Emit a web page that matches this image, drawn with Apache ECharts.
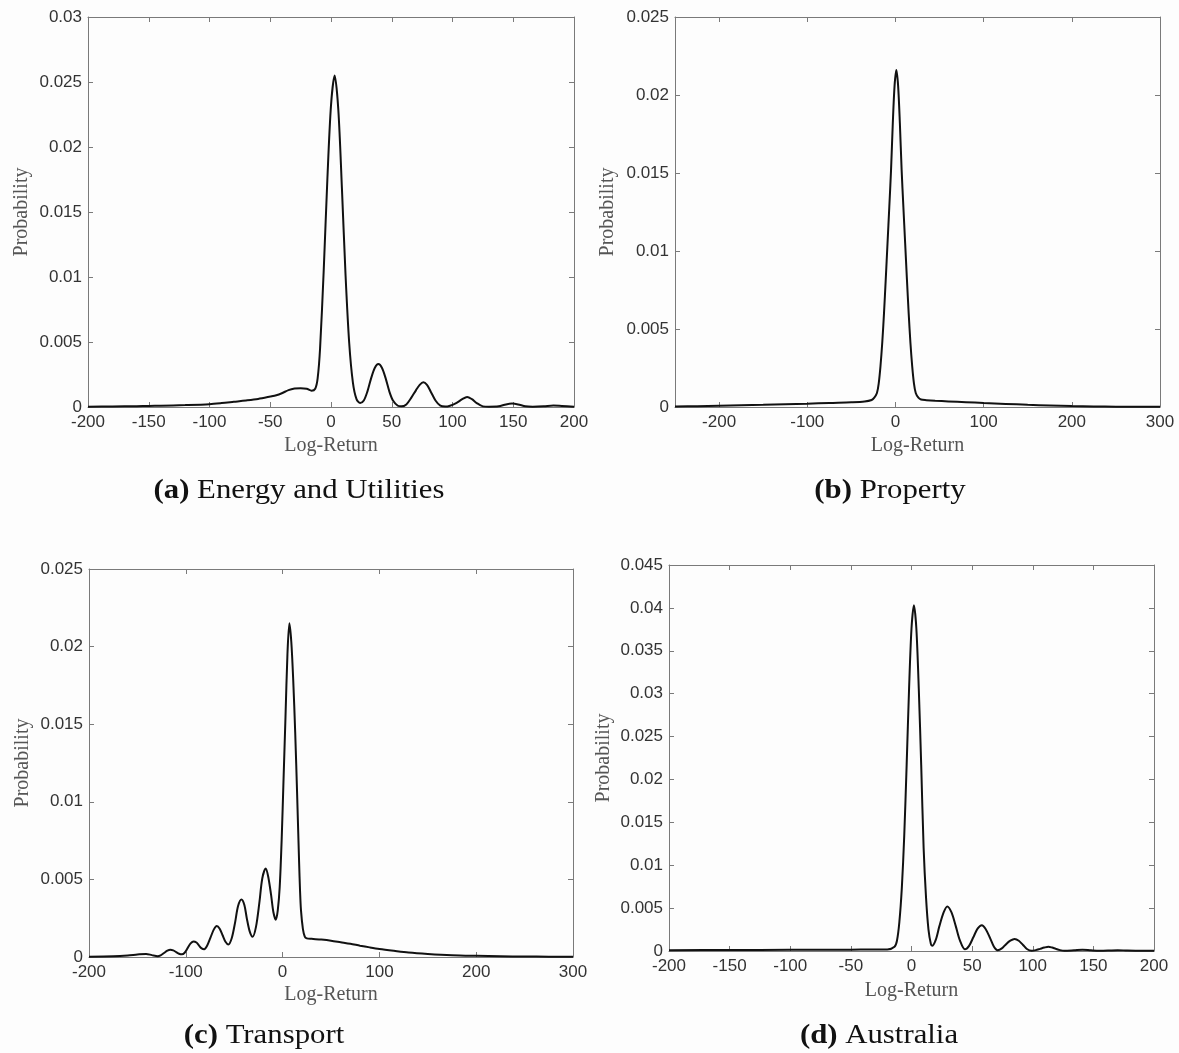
<!DOCTYPE html>
<html>
<head>
<meta charset="utf-8">
<title>Log-Return densities</title>
<script src="https://cdn.jsdelivr.net/npm/echarts@6/dist/echarts.min.js"></script>
<style>
  html, body { margin: 0; padding: 0; background: #fdfdfd; }
  #main { width: 1179px; height: 1053px; }
</style>
</head>
<body>
<div id="main"></div>
<script>
// (a) Energy and Utilities
const energyX = [-200, -180, -160, -150, -140, -120, -100, -90, -80, -70, -60, -50, -45, -40, -35, -30, -25, -20, -16, -13, -11, -9, -6, -3, 0, 3, 6, 9, 12, 15, 18, 21, 24, 27, 30, 33, 36, 39, 42, 45, 48, 51, 55, 58, 62, 66, 70, 73, 76, 79, 82, 86, 90, 94, 98, 103, 108, 112, 116, 120, 125, 130, 138, 144, 149, 154, 160, 166, 175, 183, 190, 200];
const energyY = [0.00002, 0.00004, 0.00006, 0.00008, 0.0001, 0.00015, 0.00022, 0.0003, 0.0004, 0.0005, 0.00062, 0.0008, 0.0009, 0.00108, 0.0013, 0.00142, 0.00145, 0.0014, 0.00125, 0.0014, 0.0022, 0.0045, 0.0105, 0.0175, 0.0232, 0.0255, 0.0229, 0.0168, 0.0101, 0.0049, 0.0019, 0.0006, 0.0003, 0.0005, 0.0012, 0.0022, 0.003, 0.0033, 0.003, 0.0022, 0.0012, 0.0005, 0.0001, 0.00005, 0.0002, 0.0007, 0.0013, 0.0017, 0.0019, 0.0017, 0.0012, 0.0005, 0.0001, 0.00003, 0.0001, 0.0003, 0.0006, 0.00077, 0.0006, 0.0003, 0.00005, 0.00002, 0.00005, 0.0002, 0.00026, 0.0002, 0.00005, 0.00002, 0.00005, 0.00012, 0.00008, 0.00002];
const energyTicks = [-200, -150, -100, -50, 0, 50, 100, 150, 200];

// (b) Property
const propertyX = [-250, -225, -200, -175, -150, -125, -100, -75, -50, -35, -27, -24, -21, -19, -17, -15, -13, -11, -9, -7, -5, -3, -1, 1, 3, 5, 7, 9, 11, 13, 15, 17, 19, 21, 23, 26, 29, 35, 45, 60, 80, 100, 125, 150, 175, 200, 225, 250, 275, 300];
const propertyY = [0.00003, 0.00005, 0.00008, 0.00011, 0.00014, 0.00018, 0.00021, 0.00026, 0.0003, 0.00035, 0.00045, 0.0006, 0.0009, 0.0015, 0.0026, 0.0041, 0.006, 0.0082, 0.0105, 0.0128, 0.0152, 0.0182, 0.0206, 0.0216, 0.0206, 0.0182, 0.0152, 0.0128, 0.0105, 0.0082, 0.006, 0.0041, 0.0026, 0.0015, 0.0009, 0.0006, 0.00048, 0.00044, 0.0004, 0.00036, 0.00031, 0.00026, 0.0002, 0.00014, 0.0001, 0.00006, 0.00004, 0.00002, 0.00001, 0.00001];
const propertyTicks = [-200, -100, 0, 100, 200, 300];

// (c) Transport
const transportX = [-200, -175, -160, -150, -141, -135, -129, -126, -122.5, -119, -116, -113, -110, -107, -104, -101, -98, -95, -92, -89, -86.5, -84, -81, -78, -74.5, -71, -68, -65, -62, -59, -56, -52.5, -49, -46, -42.5, -39.5, -37, -34, -31, -27.5, -24, -21, -17.5, -15, -12, -9.5, -7, -5, -3, -1, 1, 3, 5, 7, 9, 11, 13, 15, 17, 18, 19, 21, 23, 25, 30, 40, 50, 60, 70, 80, 90, 100, 115, 130, 150, 175, 200, 225, 250, 275, 300];
const transportY = [0.00002, 0.00005, 0.0001, 0.00016, 0.0002, 0.00012, 0.00005, 0.00011, 0.00026, 0.00041, 0.00047, 0.00043, 0.00032, 0.00021, 0.00017, 0.00029, 0.00059, 0.00088, 0.001, 0.00093, 0.00075, 0.00057, 0.0005, 0.00072, 0.00125, 0.00178, 0.002, 0.00182, 0.0014, 0.00098, 0.0008, 0.00122, 0.00225, 0.00328, 0.0037, 0.00335, 0.0025, 0.00165, 0.0013, 0.00194, 0.0035, 0.00506, 0.0057, 0.00522, 0.00405, 0.00288, 0.0024, 0.003, 0.0045, 0.0075, 0.0115, 0.0155, 0.0195, 0.0215, 0.0203, 0.0178, 0.0145, 0.0105, 0.0062, 0.0043, 0.003, 0.0018, 0.0013, 0.0012, 0.00117, 0.00112, 0.00105, 0.00095, 0.00085, 0.00073, 0.00062, 0.00052, 0.0004, 0.00029, 0.0002, 0.00012, 0.00008, 0.00005, 0.00003, 0.00002, 0.00001];
const transportTicks = [-200, -100, 0, 100, 200, 300];

// (d) Australia
const australiaX = [-200, -150, -100, -50, -20, -14, -12, -10, -8, -6, -4, -2, 0, 2, 4, 6, 8, 10, 12, 14, 16, 17, 20, 23, 26.5, 29.5, 33, 36.5, 40, 44, 47.5, 51, 54.5, 58, 61, 64.5, 68, 71, 74.5, 78, 81.5, 85, 88.5, 92, 95.5, 99, 102.5, 106, 109.5, 113, 116, 119, 122.5, 126, 134, 141, 148, 155, 162, 170, 178, 190, 200];
const australiaY = [0.0001, 0.00012, 0.00014, 0.00016, 0.00018, 0.0005, 0.0012, 0.0034, 0.0073, 0.0134, 0.0217, 0.0306, 0.0376, 0.0403, 0.0376, 0.0306, 0.0217, 0.012, 0.0062, 0.0025, 0.0008, 0.0006, 0.0013, 0.0029, 0.0045, 0.0052, 0.0045, 0.0029, 0.0012, 0.0002, 0.0006, 0.0016, 0.0026, 0.003, 0.0026, 0.0016, 0.0005, 0.0001, 0.0003, 0.0008, 0.0012, 0.0014, 0.0012, 0.0007, 0.0002, 0.00003, 0.0001, 0.00025, 0.0004, 0.0005, 0.0004, 0.00025, 0.0001, 0.00002, 0.00008, 0.00015, 0.00008, 0.00003, 0.00005, 0.0001, 0.00005, 0.00002, 0.00002];
const australiaTicks = [-200, -150, -100, -50, 0, 50, 100, 150, 200];

const panels = [
  { tag: '(a)', title: 'Energy and Utilities', xs: energyX, ys: energyY, ticks: energyTicks,
    xMin: -200, xMax: 200, yMax: 0.03, grid: { left: 88, top: 17, width: 486, height: 390 },
    yGap: 56, xGap: 29, titlePos: [299, 491] },
  { tag: '(b)', title: 'Property', xs: propertyX, ys: propertyY, ticks: propertyTicks,
    xMin: -250, xMax: 300, yMax: 0.025, grid: { left: 675, top: 17, width: 485, height: 390 },
    yGap: 57, xGap: 29, titlePos: [890, 491] },
  { tag: '(c)', title: 'Transport', xs: transportX, ys: transportY, ticks: transportTicks,
    xMin: -200, xMax: 300, yMax: 0.025, grid: { left: 89, top: 569, width: 484, height: 388 },
    yGap: 56, xGap: 28, titlePos: [264, 1036] },
  { tag: '(d)', title: 'Australia', xs: australiaX, ys: australiaY, ticks: australiaTicks,
    xMin: -200, xMax: 200, yMax: 0.045, grid: { left: 669, top: 565, width: 485, height: 386 },
    yGap: 55, xGap: 30, titlePos: [879, 1036] }
];

const boxColor = '#7a7a7a';
const serif = 'Liberation Serif, Times New Roman, serif';
const tickFont = { color: '#333', fontSize: 17, fontFamily: 'Liberation Sans, Arial, sans-serif' };
const nameFont = { color: '#555', fontSize: 20, fontFamily: serif };

const grids = [];
const xAxes = [];
const yAxes = [];
const series = [];
const graphics = [];

panels.forEach(function (p, i) {
  grids.push(Object.assign({ containLabel: false }, p.grid));

  // bottom axis carries labels, top axis only draws the frame + inside ticks
  xAxes.push({
    type: 'value', gridIndex: i, position: 'bottom', min: p.xMin, max: p.xMax,
    name: 'Log-Return', nameLocation: 'middle', nameGap: p.xGap, nameTextStyle: nameFont,
    axisLine: { onZero: false, lineStyle: { color: boxColor, width: 1 } },
    axisTick: { inside: true, length: 5, customValues: p.ticks, lineStyle: { color: boxColor } },
    axisLabel: Object.assign({ margin: 7, customValues: p.ticks, showMinLabel: true, showMaxLabel: true }, tickFont),
    splitLine: { show: false }
  });
  xAxes.push({
    type: 'value', gridIndex: i, position: 'top', min: p.xMin, max: p.xMax,
    axisLine: { onZero: false, lineStyle: { color: boxColor, width: 1 } },
    axisTick: { inside: true, length: 5, customValues: p.ticks, lineStyle: { color: boxColor } },
    axisLabel: { show: false },
    splitLine: { show: false }
  });

  yAxes.push({
    type: 'value', gridIndex: i, position: 'left', min: 0, max: p.yMax, interval: 0.005,
    name: 'Probability', nameLocation: 'middle', nameGap: p.yGap, nameTextStyle: nameFont,
    axisLine: { show: true, onZero: false, lineStyle: { color: boxColor, width: 1 } },
    axisTick: { show: true, inside: true, length: 5, lineStyle: { color: boxColor } },
    axisLabel: Object.assign({ margin: 6 }, tickFont),
    splitLine: { show: false }
  });
  yAxes.push({
    type: 'value', gridIndex: i, position: 'right', min: 0, max: p.yMax, interval: 0.005,
    axisLine: { show: true, onZero: false, lineStyle: { color: boxColor, width: 1 } },
    axisTick: { show: true, inside: true, length: 5, lineStyle: { color: boxColor } },
    axisLabel: { show: false },
    splitLine: { show: false }
  });

  series.push({
    type: 'line', xAxisIndex: i * 2, yAxisIndex: i * 2,
    data: p.xs.map(function (x, k) { return [x, p.ys[k]]; }),
    showSymbol: false, smooth: 0.3, silent: true,
    lineStyle: { color: '#111', width: 2 }
  });

  // panel caption, slightly widened like the scanned figure
  graphics.push({
    type: 'text', x: p.titlePos[0], y: p.titlePos[1], scaleX: 1.14,
    style: {
      text: '{b|' + p.tag + '}{n| ' + p.title + '}',
      align: 'center', verticalAlign: 'middle',
      rich: {
        b: { fontWeight: 'bold', fontSize: 27, fontFamily: serif, fill: '#111' },
        n: { fontSize: 27, fontFamily: serif, fill: '#111' }
      }
    }
  });
});

const chart = echarts.init(document.getElementById('main'), null, { renderer: 'canvas' });
chart.setOption({
  backgroundColor: '#fdfdfd',
  animation: false,
  grid: grids,
  xAxis: xAxes,
  yAxis: yAxes,
  series: series,
  graphic: graphics
});
</script>
</body>
</html>
